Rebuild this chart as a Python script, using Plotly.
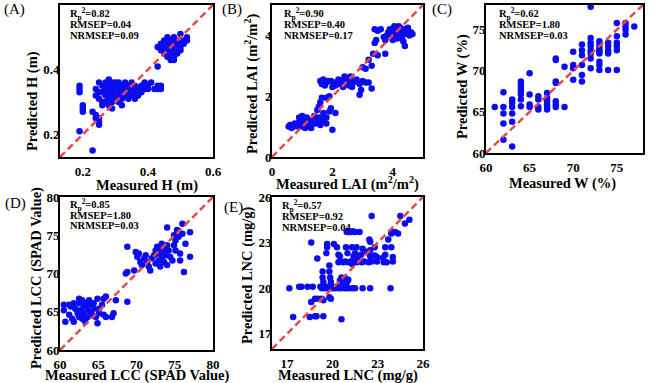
import plotly.graph_objects as go

# ---------------- data ----------------
# (A) Plant height H (m)
h_meas = [0.19,0.19,0.19,0.20,0.20,0.20,0.19,0.23,0.23,0.24,0.24,0.25,0.25,0.25,
          0.24,0.24,0.25,0.25,0.25,0.26,0.26,0.26,0.26,0.27,0.27,0.27,0.27,0.28,0.28,0.28,0.28,0.28,
          0.29,0.29,0.29,0.29,0.29,0.30,0.30,0.30,0.30,0.31,0.31,0.31,0.31,0.32,0.32,0.32,0.32,
          0.33,0.33,0.33,0.34,0.34,0.34,0.35,0.35,0.35,0.36,0.36,0.36,0.37,0.37,0.38,0.38,0.39,0.39,
          0.40,0.41,0.42,0.43,0.43,0.44,0.44,0.40,0.39,0.43,
          0.43,0.44,0.44,0.45,0.45,0.45,0.46,0.46,0.46,0.46,0.47,0.47,0.47,0.48,0.48,0.48,0.48,
          0.49,0.49,0.49,0.50,0.50,0.50,0.51,0.51,0.47,0.49,0.50,0.52,0.52,0.48]
h_pred = [0.35,0.34,0.33,0.28,0.27,0.29,0.21,0.15,0.27,0.25,0.26,0.24,0.23,0.25,
          0.34,0.32,0.33,0.31,0.36,0.35,0.33,0.30,0.29,0.34,0.32,0.36,0.30,0.33,0.35,0.31,0.29,0.37,
          0.34,0.32,0.36,0.30,0.28,0.35,0.33,0.31,0.36,0.34,0.32,0.30,0.36,0.33,0.35,0.31,0.29,
          0.34,0.32,0.36,0.33,0.31,0.35,0.32,0.34,0.36,0.33,0.31,0.35,0.34,0.32,0.35,0.33,0.36,0.34,
          0.35,0.36,0.34,0.35,0.34,0.35,0.34,0.34,0.35,0.41,
          0.47,0.46,0.48,0.47,0.49,0.45,0.48,0.46,0.50,0.44,0.47,0.49,0.45,0.48,0.46,0.50,0.44,
          0.47,0.49,0.45,0.48,0.46,0.51,0.48,0.49,0.43,0.46,0.47,0.49,0.50,0.43]

# (B) LAI (m2/m2)
lai_meas = [0.55,0.6,0.7,0.75,0.8,0.85,0.9,0.95,1.0,1.0,1.05,1.1,1.1,1.15,1.2,1.2,1.25,1.3,1.3,1.35,
            1.4,1.4,1.45,1.5,0.9,1.0,1.55,1.6,1.65,1.7,1.5,1.55,1.6,1.65,1.7,1.8,1.9,1.95,2.0,2.1,1.8,0.65,
            1.6,1.65,1.7,1.75,1.8,1.85,1.9,1.8,2.0,2.05,2.1,2.2,2.3,2.4,2.45,2.5,2.55,2.6,2.65,2.7,2.6,2.4,
            2.8,2.9,2.95,2.9,3.0,3.1,3.2,3.3,1.95,2.2,2.35,
            3.0,3.1,3.3,3.35,3.5,3.75,3.2,
            3.4,3.5,3.6,3.45,3.4,3.8,3.85,3.9,3.95,4.0,4.0,4.05,4.1,4.15,4.15,4.2,4.25,4.25,4.3,4.35,4.35,
            4.4,4.4,4.45,4.5,4.55,4.6,4.65,3.9,4.05,4.2,4.3,3.7,3.75,4.1]
lai_pred = [1.0,1.05,1.0,1.1,1.05,1.0,1.15,1.1,1.0,1.2,1.05,0.95,1.15,1.3,1.0,1.1,1.2,1.05,0.95,1.15,
            1.25,1.35,1.1,1.2,1.3,1.35,1.3,1.05,1.15,1.25,1.55,1.65,1.8,1.95,1.45,1.3,1.5,1.6,0.9,1.45,1.1,0.95,
            2.5,2.4,2.55,2.35,2.45,2.5,2.0,1.95,2.3,2.45,2.35,2.4,2.5,2.55,2.45,2.6,2.35,2.5,2.3,2.45,2.65,2.65,
            2.55,2.4,2.2,2.05,2.5,2.45,2.45,2.25,2.5,2.55,2.3,
            2.95,2.9,3.0,3.4,3.35,3.4,3.2,
            4.2,4.15,4.2,3.85,3.75,4.0,4.1,3.95,4.15,4.05,3.85,4.2,4.0,3.9,4.15,4.05,4.25,3.95,4.1,4.2,3.8,
            4.05,3.65,4.15,4.25,4.0,4.1,4.05,4.2,4.3,4.3,3.9,3.95,3.85,4.25]

# (C) Water content W (%)
w_meas = [61,
          62,62,62,62,62,
          63,63,63,63,63,63,
          64,64,64,64,64,64,64,
          65,65,65,65,
          66,66,66,66,
          67,67,67,67,67,67,
          68,68,68,68,68,68,68,
          69,69,
          70,70,70,70,
          71,71,71,71,71,71,
          72,72,72,72,72,72,72,72,
          73,73,73,73,73,73,73,73,73,
          74,74,74,74,74,74,
          75,75,75,75,75,75,
          76,76,76,76,
          77]
w_pred = [65.6,
          67.4,65.6,64.8,63.6,61.6,
          66.5,66.1,65.6,64.8,63.8,60.8,
          68.7,68.3,67.9,67.5,67.1,66.5,65.7,
          69.7,67.1,65.9,65.6,
          66.9,66.5,65.6,65.3,
          67.3,66.7,66.3,65.9,65.6,65.3,
          66.3,65.9,65.6,71.5,71.3,68.7,68.5,
          65.6,70.5,
          72.3,70.7,70.3,68.9,
          73.2,72.5,71.9,70.7,69.5,68.7,
          77.8,74.0,73.4,73.0,72.5,72.1,71.5,70.3,
          73.6,73.2,72.8,72.5,72.3,72.1,71.1,70.7,70.1,
          73.4,73.0,72.5,72.3,72.1,70.1,
          75.8,74.2,73.4,73.0,72.5,70.1,
          75.8,75.4,75.0,74.4,
          75.4]

# (D) LCC (SPAD value)
lcc_meas = [60.5,60.5,60.7,61.2,61.4,61.6,61.8,62.0,62.3,62.5,62.5,62.7,62.9,63.1,63.1,63.3,63.6,63.6,
            63.8,64.0,64.2,64.4,64.7,64.9,64.9,65.1,65.1,65.5,65.7,65.7,66.0,66.0,66.8,67.0,67.3,
            62.5,62.9,63.8,61.2,61.8,64.4,63.3,
            68.8,68.8,68.8,68.6,69.7,69.9,70.1,70.3,70.5,70.7,71.0,71.2,71.4,71.6,71.8,72.0,72.3,72.5,
            72.5,72.7,72.9,72.9,73.1,73.1,73.3,73.3,73.6,73.6,73.8,73.8,74.0,74.0,74.0,74.2,74.4,74.7,
            74.9,74.9,75.1,75.1,75.3,75.5,75.7,75.7,76.0,76.0,76.2,76.4,77.0,77.0]
lcc_pred = [65.9,65.2,63.7,64.6,65.7,64.1,63.7,65.4,64.8,66.1,64.3,65.2,64.1,65.7,64.8,63.7,65.2,64.3,
            65.9,65.0,64.6,65.4,64.3,66.7,63.5,64.8,65.4,65.9,66.7,64.6,67.0,64.3,64.3,64.8,66.5,
            66.7,66.5,66.5,65.9,66.1,66.1,66.1,
            66.3,73.5,70.2,70.0,70.4,72.8,72.2,72.6,71.5,71.1,72.0,72.4,71.5,70.9,70.4,72.0,72.4,73.0,
            71.3,73.5,72.6,71.7,73.3,70.9,73.9,72.2,72.8,71.5,73.5,72.4,76.0,73.7,71.1,73.0,72.2,71.7,
            75.0,73.7,74.3,73.0,75.7,74.8,72.6,71.7,76.5,75.2,70.2,73.9,75.4,72.2]

# (E) LNC (mg/g)
lnc_meas = [17.15,17.8,17.95,18.35,18.7,19.2,19.3,19.4,19.5,19.6,19.7,19.85,19.95,20.05,20.15,20.3,20.4,
            20.5,20.6,20.7,20.85,20.95,21.05,21.3,21.5,22.0,22.5,23.85,
            19.35,19.35,19.4,19.8,19.8,19.85,19.9,20.5,20.6,20.85,21.05,21.0,20.7,
            18.6,18.85,19.05,19.3,19.4,19.8,19.9,17.4,18.5,18.85,18.95,19.4,20.6,
            20.4,20.55,20.7,20.85,21.0,21.2,21.3,21.45,21.6,21.75,21.95,22.1,22.4,22.6,22.95,23.4,23.6,24.0,
            20.5,21.0,21.4,21.5,21.7,21.9,22.25,22.5,22.45,22.5,22.8,22.5,21.3,20.9,20.4,20.3,19.65,19.65,
            19.6,19.0,18.6,20.1,21.6,22.0,22.8,23.35,24.0,23.9,23.5,23.5,22.95,
            20.95,21.1,21.25,21.35,21.5,21.8,
            22.6,24.5,24.8,25.1,23.9,24.15,24.35,23.9,23.7]
lnc_pred = [20.0,20.1,20.1,20.1,20.1,20.1,20.0,20.1,20.0,20.1,20.0,20.1,20.0,20.1,20.0,20.1,20.0,
            20.1,20.0,20.1,20.0,20.1,20.0,20.0,20.0,20.0,20.0,20.0,
            21.1,20.7,20.4,21.5,21.1,20.7,20.4,20.5,20.7,20.65,20.55,20.45,20.4,
            19.1,19.3,19.3,19.3,19.2,19.4,19.3,18.1,18.1,18.15,18.15,18.15,17.95,
            21.7,21.75,21.7,21.75,21.7,21.75,21.6,21.75,21.7,21.75,21.7,21.75,21.7,21.75,21.75,21.7,21.7,21.75,
            22.1,22.3,22.1,22.3,22.1,22.2,22.4,22.5,23.2,23.05,22.7,22.1,22.7,22.7,22.2,22.7,22.9,22.7,
            22.3,21.95,23.0,22.9,22.7,22.6,22.15,22.0,22.05,22.7,22.7,22.2,22.05,
            23.7,23.7,23.7,23.75,23.7,23.7,
            24.75,24.75,24.25,24.5,23.6,23.7,23.6,23.7,23.2]

panel_labels = ["(A)", "(B)", "(C)", "(D)", "(E)"]
x_titles = ["Measured H (m)", "Measured LAI (m<sup>2</sup>/m<sup>2</sup>)", "Measured W (%)",
            "Measured LCC (SPAD Value)", "Measured LNC (mg/g)"]
y_titles = ["Predicted H (m)", "Predicted LAI (m<sup>2</sup>/m<sup>2</sup>)", "Predicted W (%)",
            "Predicted LCC (SPAD Value)", "Predicted LNC (mg/g)"]
r2_vals = ["0.82", "0.90", "0.62", "0.85", "0.57"]
rmsep_vals = ["0.04", "0.40", "1.80", "1.80", "0.92"]
nrmsep_vals = ["0.09", "0.17", "0.03", "0.03", "0.04"]
ranges = [[0.13, 0.6], [0, 5], [60, 78], [60, 80], [16, 26]]
tick_vals = [[0.2, 0.4, 0.6], [0, 2, 4], [60, 65, 70, 75], [60, 65, 70, 75, 80], [17, 20, 23, 26]]
tick_text = [["0.2", "0.4", "0.6"], ["0", "2", "4"], ["60", "65", "70", "75"],
             ["60", "65", "70", "75", "80"], ["17", "20", "23", "26"]]

meas = [h_meas, lai_meas, w_meas, lcc_meas, lnc_meas]
pred = [h_pred, lai_pred, w_pred, lcc_pred, lnc_pred]

# ---------------- layout (pixels) ----------------
W, H = 650, 383
boxes = [(60, 213, 5, 157), (272, 423, 5, 157), (486, 643, 5, 153),
         (60, 213, 197, 350), (272, 423, 197, 349)]
xtitle_pos = [(147, 185), (347, 184), (562, 183), (137, 375), (348, 375)]
ytitle_pos = [(32, 101), (252, 83), (462, 87), (36, 278), (247, 275)]
label_pos = [(14, 9), (232, 9), (442, 9), (15, 203), (233, 207)]
stat_pos = [(68, 14), (282, 14), (497, 14), (68, 205), (280, 206)]

def px(x):
    return x / W

def py(y):
    return 1 - y / H

SERIF = "Liberation Serif, Times New Roman, serif"
fig = go.Figure()
layout = dict(width=W, height=H, margin=dict(l=0, r=0, t=0, b=0, autoexpand=False),
              paper_bgcolor="white", plot_bgcolor="white", showlegend=False)
annotations = []

for i in range(5):
    k = "" if i == 0 else str(i + 1)
    x0, x1, y0, y1 = boxes[i]
    common = dict(range=ranges[i], tickvals=tick_vals[i], ticktext=tick_text[i],
                  showline=True, mirror=True, linecolor="black", linewidth=2,
                  showgrid=False, zeroline=False, ticks="", ticklen=0, automargin=False,
                  tickfont=dict(family=SERIF, size=13, color="black", weight="bold"))
    layout["xaxis" + k] = dict(domain=[px(x0), px(x1)], anchor="y" + k,
                               ticklabelstandoff=1, **common)
    layout["yaxis" + k] = dict(domain=[py(y1), py(y0)], anchor="x" + k,
                               ticklabelstandoff=-4, **common)

    fig.add_trace(go.Scatter(x=meas[i], y=pred[i], mode="markers",
                             marker=dict(color="rgb(12,12,240)", size=6.5, line=dict(width=0)),
                             xaxis="x" + k, yaxis="y" + k, cliponaxis=True))
    fig.add_trace(go.Scatter(x=ranges[i], y=ranges[i], mode="lines",
                             line=dict(color="#e8474c", width=2.5, dash="7px,4px"),
                             xaxis="x" + k, yaxis="y" + k))

    tx, ty = xtitle_pos[i]
    annotations.append(dict(x=px(tx), y=py(ty), xref="paper", yref="paper", text=x_titles[i],
                            showarrow=False, xanchor="center", yanchor="middle",
                            font=dict(family=SERIF, size=14.5, color="black", weight="bold")))
    tx, ty = ytitle_pos[i]
    annotations.append(dict(x=px(tx), y=py(ty), xref="paper", yref="paper", text=y_titles[i],
                            showarrow=False, xanchor="center", yanchor="middle", textangle=-90,
                            font=dict(family=SERIF, size=14.5, color="black", weight="bold")))
    tx, ty = label_pos[i]
    annotations.append(dict(x=px(tx), y=py(ty), xref="paper", yref="paper", text=panel_labels[i],
                            showarrow=False, xanchor="center", yanchor="middle",
                            font=dict(family=SERIF, size=15, color="black")))
    sx, sy = stat_pos[i]
    lines = ["R<sub>p</sub><sup>2</sup>=" + r2_vals[i], "RMSEP=" + rmsep_vals[i],
             "NRMSEP=" + nrmsep_vals[i]]
    for j, t in enumerate(lines):
        annotations.append(dict(x=px(sx), y=py(sy + 10.5 * j), xref="paper", yref="paper", text=t,
                                showarrow=False, xanchor="left", yanchor="middle",
                                font=dict(family=SERIF, size=10.5, color="black", weight="bold")))

layout["annotations"] = annotations
fig.update_layout(**layout)
fig.write_html("out.html", config={"displayModeBar": False},
               post_script="document.body.style.margin='0';document.body.style.padding='0';")
